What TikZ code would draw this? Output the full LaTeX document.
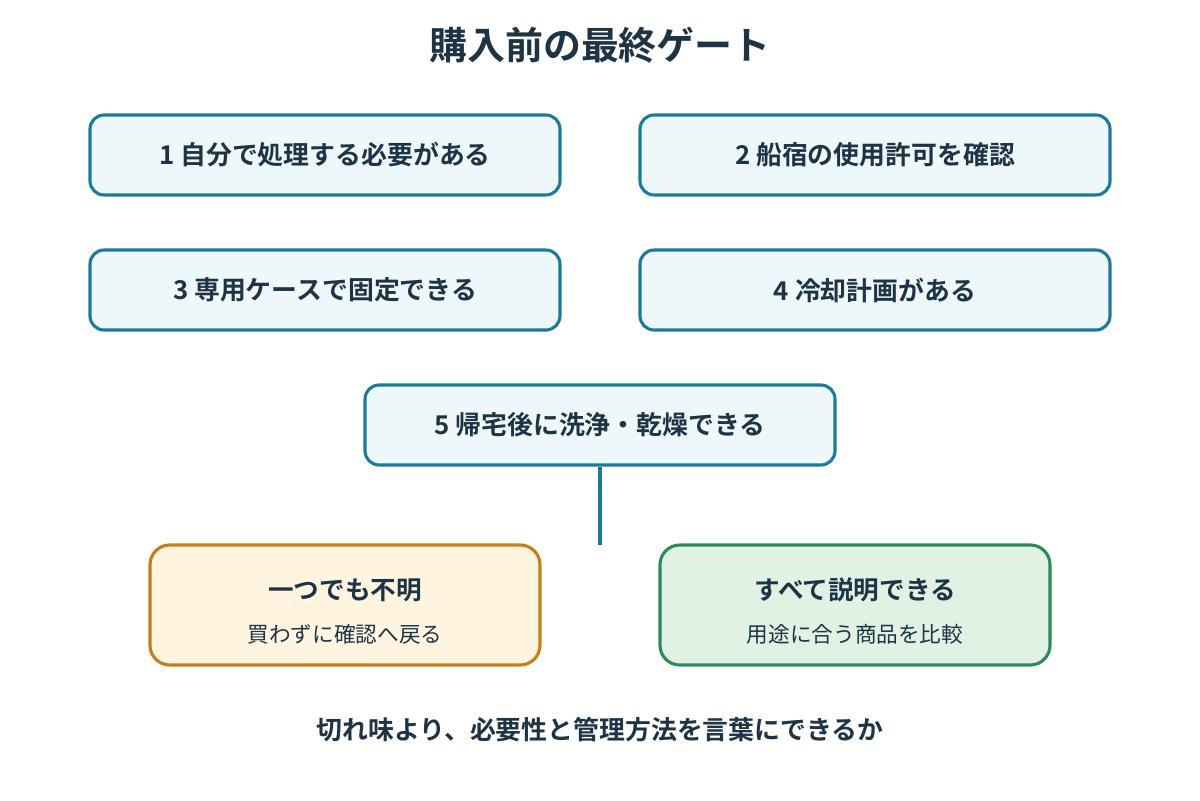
\documentclass[tikz,border=0pt]{standalone}
\usepackage{fontspec}
\setmainfont{Noto Sans CJK JP}
\newfontfamily\jpbold{Noto Sans CJK JP Bold}
\definecolor{ink}{HTML}{1E3445}
\definecolor{gateline}{HTML}{1B7A9C}
\definecolor{gatefill}{HTML}{EEF7FA}
\definecolor{stopline}{HTML}{C47F1A}
\definecolor{stopfill}{HTML}{FEF4E0}
\definecolor{goline}{HTML}{2E8B57}
\definecolor{gofill}{HTML}{E1F2E5}
\tikzset{
  gate/.style={draw=gateline, fill=gatefill, line width=2.2pt, rounded corners=10pt,
    minimum width=470*0.025cm, minimum height=80*0.025cm, text=ink,
    font=\jpbold\fontsize{18.4}{22}\selectfont},
  result/.style={line width=2.2pt, rounded corners=14pt,
    minimum width=390*0.025cm, minimum height=120*0.025cm, text=ink, align=center},
}
\begin{document}
\begin{tikzpicture}[x=0.025cm, y=-0.025cm]
\useasboundingbox (0,0) rectangle (1200,800);
\node[text=ink, font=\jpbold\fontsize{27}{32}\selectfont] (title) at (600,45) {購入前の最終ゲート};
\node[gate] (g1) at (325,155) {1 自分で処理する必要がある};
\node[gate] (g2) at (875,155) {2 船宿の使用許可を確認};
\node[gate] (g3) at (325,290) {3 専用ケースで固定できる};
\node[gate] (g4) at (875,290) {4 冷却計画がある};
\node[gate] (g5) at (600,425) {5 帰宅後に洗浄・乾燥できる};
\coordinate (split) at (600,545);
\draw[gateline, line width=3.5pt] (g5.south) -- (split);
% outcome boxes
\draw[stopline, fill=stopfill, line width=2.2pt, rounded corners=14pt] (150,545) rectangle (540,665);
\draw[goline, fill=gofill, line width=2.2pt, rounded corners=14pt] (660,545) rectangle (1050,665);
\node[text=ink, font=\jpbold\fontsize{18.2}{22}\selectfont] (stop) at (345,590) {一つでも不明};
\node[text=ink, font=\fontsize{15.4}{18}\selectfont] (stopnote) at (345,634) {買わずに確認へ戻る};
\node[text=ink, font=\jpbold\fontsize{18.2}{22}\selectfont] (go) at (855,590) {すべて説明できる};
\node[text=ink, font=\fontsize{15.4}{18}\selectfont] (gonote) at (855,634) {用途に合う商品を比較};
\node[text=ink, font=\jpbold\fontsize{18.4}{22}\selectfont] (note) at (600,730) {切れ味より、必要性と管理方法を言葉にできるか};
\end{tikzpicture}
\end{document}
